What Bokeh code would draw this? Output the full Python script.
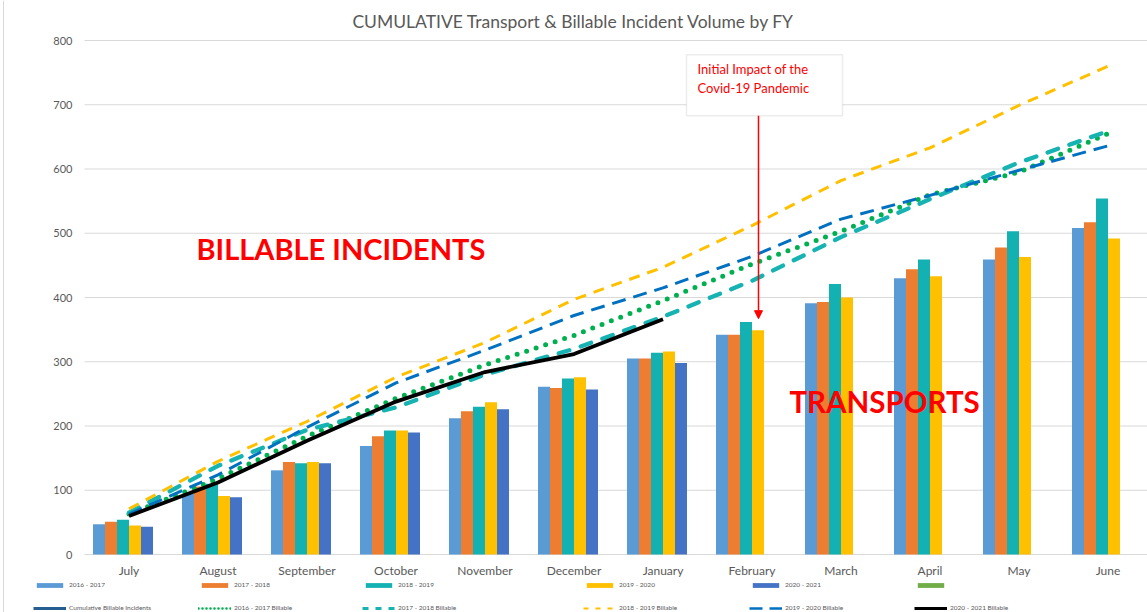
from bokeh.plotting import figure
from bokeh.models import (Range1d, Legend, LegendItem, Label, Span,
                          BoxAnnotation, Arrow, NormalHead)
from bokeh.core.properties import value
from bokeh.embed import file_html
from bokeh.resources import INLINE

# ---------------- data ----------------
months = ["July", "August", "September", "October", "November", "December",
          "January", "February", "March", "April", "May", "June"]

fy_labels = ["2016 - 2017", "2017 - 2018", "2018 - 2019", "2019 - 2020", "2020 - 2021"]

# cumulative transports (bars)
trans_2016 = [47, 94, 131, 169, 212, 261, 305, 342, 391, 430, 459, 508]
trans_2017 = [51, 106, 144, 184, 223, 259, 305, 342, 393, 444, 478, 517]
trans_2018 = [54, 110, 142, 193, 230, 274, 314, 362, 421, 459, 503, 554]
trans_2019 = [45, 91, 144, 193, 237, 276, 316, 349, 400, 433, 463, 492]
trans_2020 = [43, 89, 142, 190, 226, 257, 298]

# cumulative billable incidents (lines)
cum_label = "Cumulative Billable Incidents"
bill_labels = ["2016 - 2017 Billable", "2017 - 2018 Billable", "2018 - 2019 Billable",
               "2019 - 2020 Billable", "2020 - 2021 Billable"]
bill_2016 = [63, 118, 184, 243, 295, 341, 395, 452, 503, 560, 595, 655]
bill_2017 = [65, 138, 194, 229, 280, 320, 370, 426, 494, 553, 610, 659]
bill_2018 = [71, 145, 207, 276, 330, 397, 447, 512, 582, 633, 699, 760]
bill_2019 = [63, 124, 198, 267, 318, 372, 415, 464, 522, 559, 598, 636]
bill_2020 = [60, 112, 177, 238, 284, 312, 366]

y_ticks = [0, 100, 200, 300, 400, 500, 600, 700, 800]
y_tick_labels = [str(v) for v in y_ticks]

# ---------------- styles ----------------
bar_colors = ["#5B9BD5", "#ED7D31", "#13B1B1", "#FFC000", "#4472C4", "#70AD47"]
line_styles = [
    dict(line_color="#255E91", line_width=3.5),                                  # cumulative
    dict(line_color="#00B050", line_width=5, line_dash="0 10", line_cap="round"),
    dict(line_color="#17B3B3", line_width=4.3, line_dash="11 12", line_cap="round"),
    dict(line_color="#FFC000", line_width=3, line_dash="11 8"),
    dict(line_color="#0070C0", line_width=3, line_dash="14 8"),
    dict(line_color="black", line_width=3.8),
]
legend_line_styles = [
    dict(line_color="#255E91", line_width=3),
    dict(line_color="#00B050", line_width=2.6, line_dash="0 4", line_cap="round"),
    dict(line_color="#17B3B3", line_width=3, line_dash="6 7"),
    dict(line_color="#FFC000", line_width=2.2, line_dash="5 7"),
    dict(line_color="#0070C0", line_width=2.6, line_dash="13 7"),
    dict(line_color="black", line_width=3),
]
FONT = "Lato"
GREY = "#595959"

# pixel geometry of the plotting area (whole canvas is the frame)
W, H = 1147, 612
PX_LEFT, PX_CAT = 84, 89          # left edge of category area, category pitch
PY_ZERO, PX_PER_UNIT = 554, 0.6425

n = len(months)
xc = [i + 0.5 for i in range(n)]          # category centres
bw = 12 / PX_CAT                            # bar width in category units

p = figure(width=W, height=H, output_backend="svg", toolbar_location=None,
           x_range=Range1d(-PX_LEFT / PX_CAT, (W - PX_LEFT) / PX_CAT),
           y_range=Range1d(-(H - PY_ZERO) / PX_PER_UNIT, PY_ZERO / PX_PER_UNIT),
           x_axis_location=None, y_axis_location=None,
           min_border_left=0, min_border_right=0, min_border_top=0,
           min_border_bottom=0)
p.outline_line_color = None
p.background_fill_color = "white"
p.border_fill_color = "white"
p.grid.grid_line_color = None

# chart border (left edge)
p.add_layout(Span(location=(3 - PX_LEFT) / PX_CAT, dimension="height",
                  line_color="#D9D9D9", line_width=1))

# horizontal gridlines
p.segment(x0=[0] * len(y_ticks), x1=[n] * len(y_ticks), y0=y_ticks, y1=y_ticks,
          line_color="#D9D9D9", line_width=1)

# tick labels
p.text(x=[-12 / PX_CAT] * len(y_ticks), y=y_ticks, text=y_tick_labels,
       text_font=value(FONT), text_font_size=value("11px"), text_color=GREY,
       text_align="right", text_baseline="middle")
p.text(x=xc, y=[-16 / PX_PER_UNIT] * n, text=months,
       text_font=value(FONT), text_font_size=value("12px"), text_color=GREY,
       text_align="center", text_baseline="middle")

# title
p.add_layout(Label(x=(573 - PX_LEFT) / PX_CAT, y=(PY_ZERO - 21) / PX_PER_UNIT,
                   text="CUMULATIVE Transport & Billable Incident Volume by FY",
                   text_font=FONT, text_font_size="17.5px", text_color=GREY,
                   text_align="center", text_baseline="middle"))

# bars
bar_series = [trans_2016, trans_2017, trans_2018, trans_2019, trans_2020]
for k, vals in enumerate(bar_series):
    xs = [xc[i] + (k - 2.5) * bw for i in range(len(vals))]
    p.vbar(x=xs, top=vals, width=bw, bottom=0, fill_color=bar_colors[k],
           line_color=None)

# lines
line_series = [bill_2016, bill_2017, bill_2018, bill_2019, bill_2020]
for k, vals in enumerate(line_series):
    p.line(x=xc[:len(vals)], y=vals, **line_styles[k + 1])

# annotations
p.add_layout(Label(x=1.258, y=477, text="BILLABLE INCIDENTS", text_font=FONT,
                   text_font_size="29px", text_font_style="bold",
                   text_color="#FF0000", text_baseline="alphabetic"))
p.add_layout(Label(x=7.92, y=238, text="TRANSPORTS", text_font=FONT,
                   text_font_size="29.5px", text_font_style="bold",
                   text_color="#FF0000", text_baseline="alphabetic"))

p.add_layout(BoxAnnotation(left=6.764, right=8.517, top=778, bottom=683,
                           fill_color="white", fill_alpha=1,
                           line_color="#BFBFBF", line_width=1.5, level="annotation"))
p.add_layout(Label(x=6.888, y=756, text="Initial Impact of the", text_font=FONT,
                   text_font_size="13px", text_color="#FF0000",
                   text_baseline="alphabetic"))
p.add_layout(Label(x=6.888, y=726, text="Covid-19 Pandemic", text_font=FONT,
                   text_font_size="13px", text_color="#FF0000",
                   text_baseline="alphabetic"))
p.add_layout(Arrow(end=NormalHead(size=8, fill_color="#FF0000", line_color="#FF0000"),
                   x_start=7.573, y_start=683, x_end=7.573, y_end=367,
                   line_color="#FF0000", line_width=1.5))

# ---------------- legend (proxies kept off-screen) ----------------
OFF = -1000
leg_bars = [p.vbar(x=[OFF], top=[OFF], bottom=OFF - 1, width=0.1, fill_color=c,
                   line_color=None) for c in bar_colors]
leg_lines = [p.line(x=[OFF, OFF + 1], y=[OFF, OFF], **st) for st in legend_line_styles]
top_labels = fy_labels + [" "]
bottom_labels = [cum_label] + bill_labels
col_x = [33, 198, 362, 583, 749, 914]
for k, cx in enumerate(col_x):
    lg = Legend(items=[LegendItem(label=top_labels[k], renderers=[leg_bars[k]]),
                       LegendItem(label=bottom_labels[k], renderers=[leg_lines[k]])],
                location=(cx, 1), orientation="vertical",
                glyph_width=33, glyph_height=6, label_height=6,
                label_standoff=3, spacing=16, padding=0, margin=0,
                label_text_font=FONT, label_text_font_size="6.5px",
                label_text_color=GREY, border_line_color=None,
                background_fill_alpha=0)
    p.add_layout(lg)

open("out.html", "w").write(file_html(p, INLINE))
